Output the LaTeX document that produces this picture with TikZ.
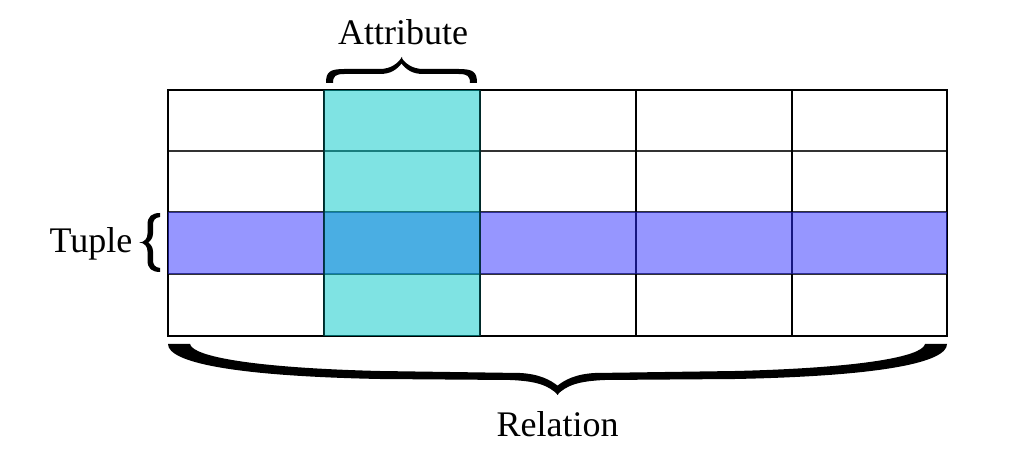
\documentclass[tikz,border=0pt]{standalone}
\usepackage{fontspec}
\setmainfont{Liberation Serif}
\definecolor{rowblue}{RGB}{45,45,255}
\definecolor{colcyan}{RGB}{0,200,200}
\tikzset{
  lbl/.style={font=\fontsize{27}{30}\selectfont, inner sep=0pt, anchor=base},
  vline/.style={line width=1.3pt, black},
  hline/.style={line width=0.9pt, black!80},
  bracefill/.style={fill=black, draw=none},
}
\begin{document}
\begin{tikzpicture}[x=0.75pt,y=-0.75pt]
\useasboundingbox (0,0) rectangle (1036,466);
% grid
\foreach \y in {151,212,274} \draw[hline] (168,\y) -- (947,\y);
\foreach \x in {324,480,636,792} \draw[vline] (\x,90) -- (\x,336);
\draw[vline] (168,90) rectangle (947,336);
% highlighted tuple row and attribute column
\fill[rowblue, fill opacity=0.5] (168,212) rectangle (947,274);
\fill[colcyan, fill opacity=0.5] (324,90) rectangle (480,336);
\draw[line width=1.3pt, black!60!teal, opacity=0.8] (324,90) -- (324,336) (480,90) -- (480,336);
% attribute brace
\foreach \s in {1,-1}{
  \begin{scope}[shift={(401.5,0)}, xscale=\s]
    \fill[bracefill] (-75.5,83) .. controls (-75.5,72) and (-72,69) .. (-57,69)
      -- (-22,69) .. controls (-11,69) and (-4,64) .. (0.5,57)
      -- (0.5,63) .. controls (-5,70) and (-11,74) .. (-22,74)
      -- (-57,74) .. controls (-66,74) and (-68.5,76) .. (-68.5,83) -- cycle;
  \end{scope}}
% tuple brace
\foreach \s in {1,-1}{
  \begin{scope}[shift={(0,242.5)}, yscale=\s]
    \fill[bracefill] (160,-29.5) .. controls (152,-29.5) and (147.5,-26) .. (147.5,-18)
      -- (147.5,-9) .. controls (147.5,-4) and (145,-1) .. (139.5,0.3)
      -- (148,0.3) .. controls (151,-2) and (153,-5) .. (153,-9)
      -- (153,-18) .. controls (153,-22) and (155,-25) .. (160,-25.5) -- cycle;
  \end{scope}}
% relation brace
\foreach \s in {1,-1}{
  \begin{scope}[shift={(557.5,0)}, xscale=\s]
    \fill[bracefill] (-389.5,344) -- (-367.5,344)
      .. controls (-365,357) and (-300,368) .. (-177.5,371)
      -- (-37.5,373) .. controls (-18,374) and (-7,380) .. (0.5,386)
      -- (0.5,395) .. controls (-9,385) and (-22,381) .. (-47.5,380)
      -- (-177.5,379) .. controls (-327,376) and (-389.5,362) .. (-389.5,344) -- cycle;
  \end{scope}}
% labels
\node[lbl] (attr) at (403,45) {Attribute};
\node[lbl] (tuple) at (91,253) {Tuple};
\node[lbl] (rel) at (557.5,437) {Relation};
\end{tikzpicture}
\end{document}
